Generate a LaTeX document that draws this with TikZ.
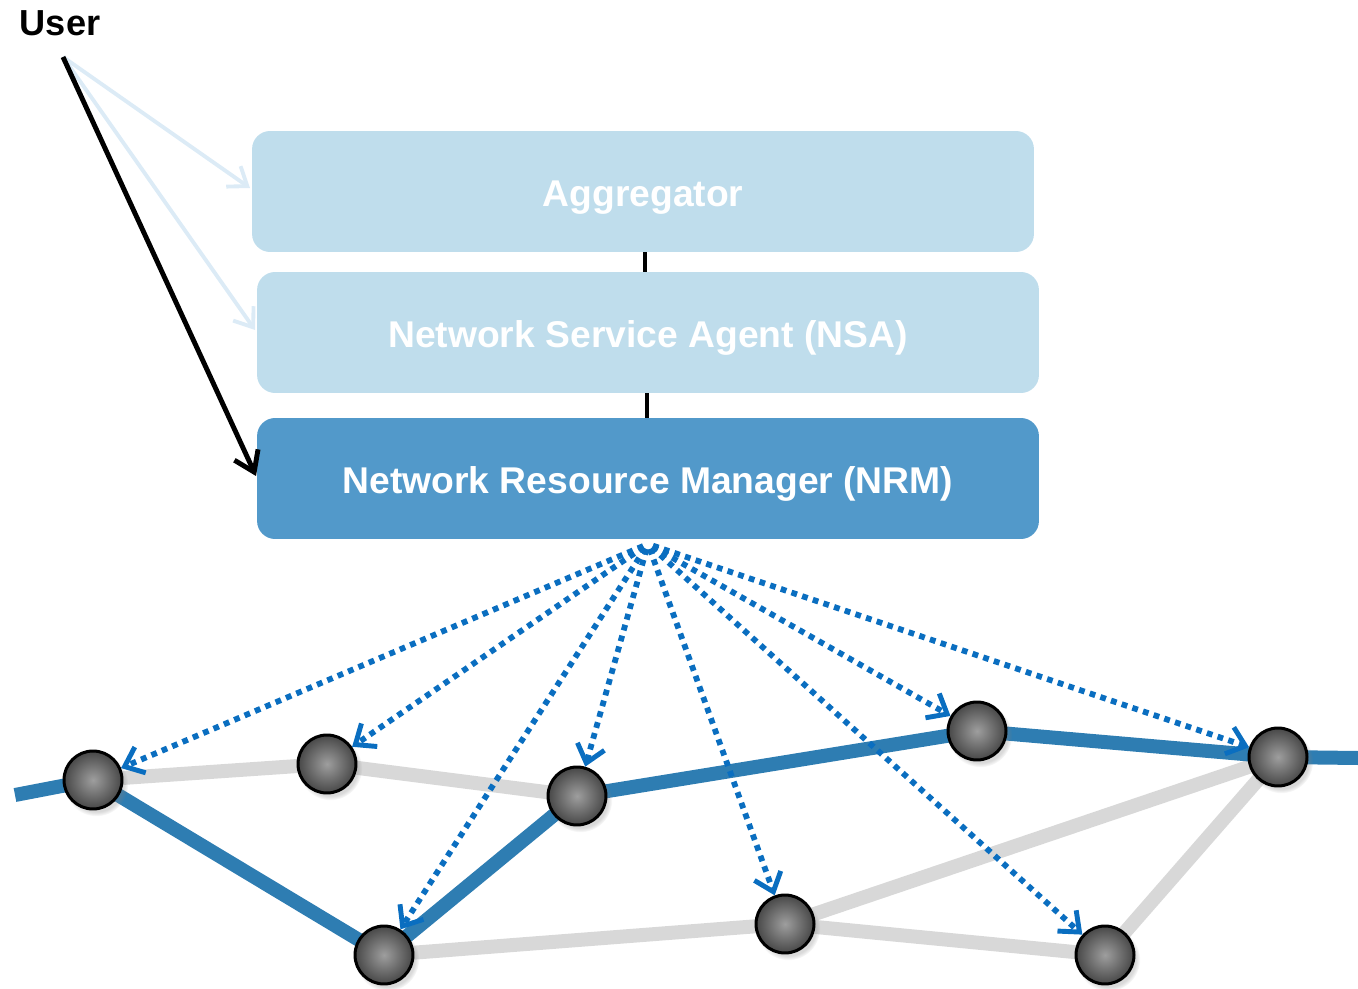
\documentclass[tikz,border=0pt]{standalone}
\usepackage{fontspec}
\setmainfont{Liberation Sans}
\usetikzlibrary{arrows.meta,backgrounds,shadows}
\definecolor{boxlight}{HTML}{BFDDEC}
\definecolor{boxdark}{HTML}{5299CA}
\definecolor{linkblue}{HTML}{2E7DB2}
\definecolor{linkgray}{HTML}{D8D8D8}
\definecolor{dotblue}{HTML}{0A6EC0}
\definecolor{faintarrow}{HTML}{DCEBF6}
\newcommand{\boxtext}[1]{\raisebox{-0.3cm}[0pt][0pt]{#1}}
\tikzset{
  layerbox/.style={rounded corners=0.36cm, minimum width=15.64cm, minimum height=2.42cm,
    inner sep=0pt, text=white, font=\bfseries\fontsize{21.2}{25}\selectfont},
  sphere/.style={circle, draw=black, line width=1.7pt, minimum size=1.16cm, inner sep=0pt,
    inner color=black!38, outer color=black!72,
    circular drop shadow={shadow xshift=0.06cm, shadow yshift=-0.08cm, opacity=0.3}},
  bluelink/.style={linkblue, line width=0.28cm},
  graylink/.style={linkgray, line width=0.28cm},
  probe/.style={dotblue, line width=3.3pt, dash pattern=on 3.3pt off 3.1pt,
    -{Straight Barb[length=0.34cm, width=0.56cm, line width=2.8pt]}, shorten <=3pt},
  userarrow/.style={line width=2.8pt, -{Straight Barb[length=0.38cm, width=0.52cm, line width=2.8pt]}},
  faintuser/.style={line width=2.2pt, -{Straight Barb[length=0.34cm, width=0.5cm, line width=2.2pt]}},
  stack/.style={black, line width=2.4pt}
}
\begin{document}
\begin{tikzpicture}[x=0.02cm, y=-0.02cm]
\useasboundingbox (0,0) rectangle (1358,989);
% layer boxes
\node[layerbox, fill=boxlight] (agg) at (643,191.5) {\boxtext{Aggregator}};
\node[layerbox, fill=boxlight] (nsa) at (648,332.5) {\boxtext{Network Service Agent (NSA)}};
\node[layerbox, fill=boxdark] (nrm) at (648,478.5) {\boxtext{Network Resource Manager (NRM)}};
\draw[stack] (agg.south -| 645,0) -- (nsa.north -| 645,0);
\draw[stack] (nsa.south -| 647,0) -- (nrm.north -| 647,0);
% user
\node[font=\bfseries\fontsize{20.6}{24}\selectfont, anchor=center] (user) at (60,23) {User};
\coordinate (u0) at (63,57);
\coordinate (aggin) at (250,188);
\coordinate (nsain) at (255,330);
\coordinate (nrmin) at (256,476);
\draw[faintuser, faintarrow] (u0) -- (aggin);
\draw[faintuser, faintarrow] (u0) -- (nsain);
\draw[userarrow, black] (u0) -- (nrmin);
% network nodes
\node[sphere] (n1) at (93,780) {};
\node[sphere] (n2) at (327,764) {};
\node[sphere] (n3) at (577,796) {};
\node[sphere] (n4) at (384,955) {};
\node[sphere] (n5) at (785,924) {};
\node[sphere] (n6) at (977,731) {};
\node[sphere] (n7) at (1278,757) {};
\node[sphere] (n8) at (1105,955) {};
\coordinate (lin) at (15,795);
\coordinate (lout) at (1358,758);
\begin{scope}[on background layer]
  \draw[graylink] (n1.center) -- (n2.center) -- (n3.center);
  \draw[graylink] (n4.center) -- (n5.center) -- (n8.center) -- (n7.center);
  \draw[graylink] (n5.center) -- (n7.center);
  \draw[bluelink] (lin) -- (n1.center) -- (n4.center) -- (n3.center) -- (n6.center) -- (n7.center) -- (lout);
\end{scope}
% probes
\coordinate (src) at (648,544);
\foreach \n in {n1,n2,n3,n4,n5,n6,n7,n8}
  \draw[probe] (src) -- (\n);
\end{tikzpicture}
\end{document}
